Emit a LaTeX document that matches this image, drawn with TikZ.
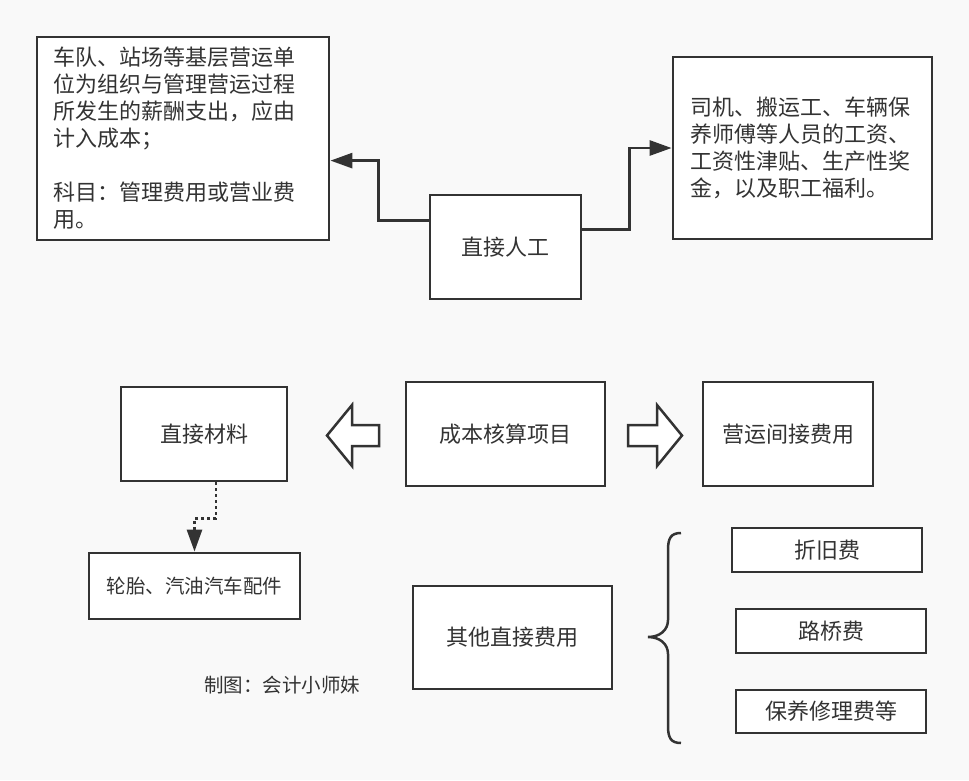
\documentclass[tikz,border=0pt]{standalone}
\usepackage{fontspec}
\setmainfont{Noto Sans CJK SC}
\usetikzlibrary{calc,arrows.meta}
\definecolor{bgc}{RGB}{249,249,249}
\definecolor{ink}{RGB}{51,51,51}
\begin{document}
\begin{tikzpicture}[x=1pt,y=-1pt,
  box/.style={draw=ink,line width=2.8pt,fill=white,text=ink,font=\fontsize{22}{27}\selectfont,inner sep=0pt,align=center},
  smalltext/.style={font=\fontsize{19.5}{24}\selectfont},
  conn/.style={draw=ink,line width=2.8pt,-{Triangle[length=22pt,width=15pt]}},
  dotconn/.style={draw=ink,line width=2.8pt,dash pattern=on 3pt off 3pt,-{Triangle[length=22pt,width=15pt]}},
  hollow/.style={draw=ink,line width=2.5pt,fill=white,line join=miter},
  plain/.style={text=ink,inner sep=0pt}]
\fill[bgc] (0,0) rectangle (969,780);
\useasboundingbox (0,0) rectangle (969,780);

% top row
\node[box,align=left,text width=260pt,inner xsep=16pt,minimum height=203pt] (A) at (183,138.5)
 {车队、站场等基层营运单\\位为组织与管理营运过程\\所发生的薪酬支出，应由\\计入成本；\\[27pt]科目：管理费用或营业费\\用。};
\node[box,align=left,text width=225pt,inner xsep=17pt,minimum height=182pt] (B) at (802.5,148)
 {司机、搬运工、车辆保\\养师傅等人员的工资、\\工资性津贴、生产性奖\\金，以及职工福利。};
\node[box,minimum width=151pt,minimum height=104pt] (C) at (505.5,247) {直接人工};

\draw[conn] ($(C.north west)+(0,27)$) -- ++(-50,0) |- ($(A.north east)+(0,125)$);
\draw[conn] ($(C.north east)+(0,36)$) -- ++(47,0) |- (B.west);

% middle row
\node[box,minimum width=199pt,minimum height=104pt] (K) at (505.5,434) {成本核算项目};
\node[box,minimum width=170pt,minimum height=104pt] (J) at (788,434) {营运间接费用};
\node[box,minimum width=166pt,minimum height=94pt] (M) at (204,434) {直接材料};

\draw[hollow] (379,425) -- (352,425) -- (352,405) -- (327,435.5) -- (352,466) -- (352,446) -- (379,446) -- cycle;
\draw[hollow] (628,425) -- (657,425) -- (657,405) -- (682,435.5) -- (657,466) -- (657,446) -- (628,446) -- cycle;

\node[box,smalltext,minimum width=211pt,minimum height=66pt] (T) at (194.5,586) {轮胎、汽油汽车配件};
\draw[dotconn] ($(M.south)+(12,0)$) -- ++(0,36) -| (T.north);

\node[plain,smalltext] (credit) at (282,685) {制图：会计小师妹};

% bottom right
\node[box,minimum width=199pt,minimum height=103pt] (O) at (512.5,637.5) {其他直接费用};
\node[box,minimum width=190pt,minimum height=44pt] (D1) at (827,550) {折旧费};
\node[box,minimum width=190pt,minimum height=44pt] (D2) at (831,631) {路桥费};
\node[box,minimum width=190pt,minimum height=43pt] (D3) at (831,711.5) {保养修理费等};

\draw[ink,line width=2.5pt] (681,533) .. controls (671,533) and (668,538) .. (668,550)
  -- (668,620) .. controls (668,630) and (660,637) .. (648,637)
  .. controls (660,637) and (668,644) .. (668,654)
  -- (668,726) .. controls (668,738) and (671,743) .. (681,743);
\end{tikzpicture}
\end{document}
